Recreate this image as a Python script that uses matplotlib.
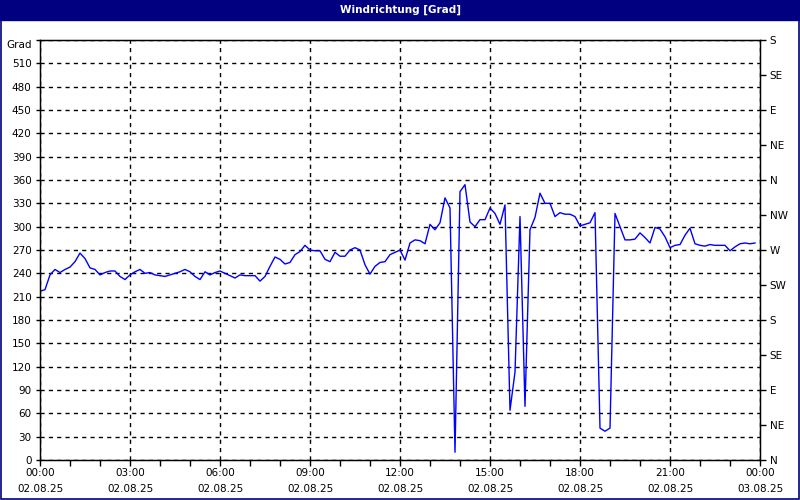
import numpy as np
import matplotlib
matplotlib.use("Agg")
import matplotlib.pyplot as plt
from matplotlib.patches import Rectangle

# wind direction in degrees, one value every 10 minutes (00:00 .. 23:50)
wind_deg = [
    217, 219, 238, 245, 241, 245, 248, 255, 266, 259, 247, 245,
    238, 241, 243, 243, 236, 232, 238, 242, 245, 240, 241, 238,
    237, 236, 238, 240, 242, 245, 242, 236, 232, 242, 238, 241,
    243, 240, 237, 234, 238, 237, 237, 237, 230, 236, 249, 261,
    258, 252, 254, 264, 268, 276, 270, 269, 269, 258, 255, 267,
    262, 262, 270, 273, 270, 251, 239, 249, 254, 255, 264, 267,
    270, 257, 279, 283, 282, 278, 303, 296, 305, 337, 324, 10,
    345, 354, 306, 300, 309, 309, 324, 317, 303, 328, 64, 113,
    313, 69, 296, 312, 343, 330, 330, 313, 318, 316, 316, 313,
    301, 303, 305, 318, 41, 37, 41, 317, 300, 283, 283, 284,
    292, 286, 279, 299, 297, 287, 273, 276, 277, 289, 298, 278,
    276, 275, 277, 276, 276, 276, 269, 274, 278, 279, 278, 279,
]
hours = np.arange(len(wind_deg)) / 6.0

x_ticks = [0, 3, 6, 9, 12, 15, 18, 21, 24]
x_labels = ["00:00\n02.08.25", "03:00\n02.08.25", "06:00\n02.08.25",
            "09:00\n02.08.25", "12:00\n02.08.25", "15:00\n02.08.25",
            "18:00\n02.08.25", "21:00\n02.08.25", "00:00\n03.08.25"]
y_ticks = list(range(0, 541, 30))
y_labels = [str(v) for v in y_ticks[:-1]] + ["Grad"]
compass_ticks = list(range(0, 541, 45))
compass_labels = ["N", "NE", "E", "SE", "S", "SW", "W", "NW",
                  "N", "NE", "E", "SE", "S"]

navy = "#000080"
fs = 7.5

fig = plt.figure(figsize=(8, 5), dpi=100)
fig.patch.set_facecolor("white")

# title bar
fig.add_artist(Rectangle((0, 1 - 20 / 500), 1, 20 / 500,
                         transform=fig.transFigure, color=navy, zorder=0))
fig.text(0.5, 1 - 10 / 500, "Windrichtung [Grad]", color="white",
         fontweight="bold", ha="center", va="center", fontsize=fs)
# window border
fig.add_artist(Rectangle((0.001, 0.002), 0.998, 0.996, transform=fig.transFigure,
                         fill=False, edgecolor=navy, lw=1.2))

ax = fig.add_axes([0.05, 0.08, 0.9, 0.84])
ax.plot(hours, wind_deg, color="#0000ff", lw=1)
ax.set_xlim(0, 24)
ax.set_ylim(0, 540)
ax.set_xticks(x_ticks)
ax.set_xticklabels(x_labels, linespacing=1.75)
ax.set_xticks(range(0, 25), minor=True)
ax.set_yticks(y_ticks)
ax.set_yticklabels(y_labels)
ax.get_yticklabels()[-1].set_va("top")
ax.grid(True, color="black", ls=(0, (3, 3)), lw=1)
ax.tick_params(axis="both", which="both", direction="out", length=4,
               width=1, color="black", labelsize=fs, pad=3)
ax.tick_params(axis="x", pad=2)
ax.tick_params(axis="y", length=3)
for s in ax.spines.values():
    s.set_linewidth(1)
    s.set_color("black")

ax2 = ax.twinx()
ax2.set_ylim(0, 540)
ax2.set_yticks(compass_ticks)
ax2.set_yticklabels(compass_labels)
ax2.tick_params(axis="y", direction="out", length=4, width=1,
                labelsize=fs, pad=3)

fig.savefig("out.png", dpi=100)
